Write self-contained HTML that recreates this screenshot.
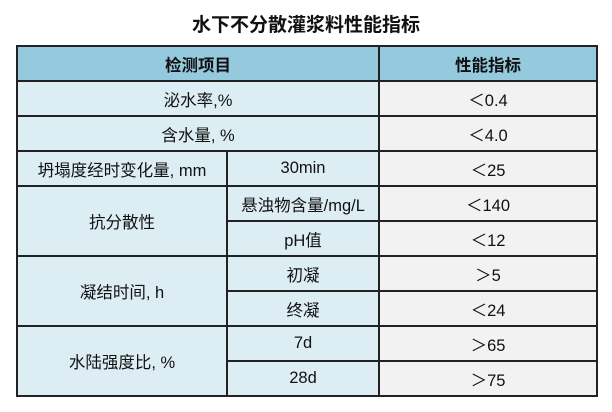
<!DOCTYPE html>
<html><head><meta charset="utf-8"><style>
body{margin:0;width:612px;height:412px;background:#fff;position:relative;overflow:hidden;font-family:"Liberation Sans","Noto Sans CJK SC",sans-serif;}
.t{position:absolute;top:10px;left:0;width:612px;text-align:center;font-size:19px;font-weight:bold;color:#111;}
.c{position:absolute;box-sizing:border-box;border:2px solid #222;display:flex;align-items:center;justify-content:center;font-size:16.5px;color:#111;}
.h{background:#94c9de;font-weight:bold;}
.l{background:#dcedf4;}
.r{background:#f2f2f2;}
</style></head><body>
<div class="t">水下不分散灌浆料性能指标</div>
<div class="c h" style="left:16px;top:45px;width:364px;height:37px">检测项目</div>
<div class="c h" style="left:378px;top:45px;width:220px;height:37px">性能指标</div>

<div class="c l" style="left:16px;top:80px;width:364px;height:37px">泌水率,%</div>
<div class="c r" style="left:378px;top:80px;width:220px;height:37px">＜0.4</div>
<div class="c l" style="left:16px;top:115px;width:364px;height:37px">含水量, %</div>
<div class="c r" style="left:378px;top:115px;width:220px;height:37px">＜4.0</div>

<div class="c l" style="left:16px;top:150px;width:212px;height:37px">坍塌度经时变化量, mm</div>
<div class="c l" style="left:226px;top:150px;width:154px;height:37px">30min</div>
<div class="c r" style="left:378px;top:150px;width:220px;height:37px">＜25</div>

<div class="c l" style="left:16px;top:185px;width:212px;height:72px">抗分散性</div>
<div class="c l" style="left:226px;top:185px;width:154px;height:37px">悬浊物含量/mg/L</div>
<div class="c r" style="left:378px;top:185px;width:220px;height:37px">＜140</div>
<div class="c l" style="left:226px;top:220px;width:154px;height:37px">pH值</div>
<div class="c r" style="left:378px;top:220px;width:220px;height:37px">＜12</div>

<div class="c l" style="left:16px;top:255px;width:212px;height:72px">凝结时间, h</div>
<div class="c l" style="left:226px;top:255px;width:154px;height:37px">初凝</div>
<div class="c r" style="left:378px;top:255px;width:220px;height:37px">＞5</div>
<div class="c l" style="left:226px;top:290px;width:154px;height:37px">终凝</div>
<div class="c r" style="left:378px;top:290px;width:220px;height:37px">＜24</div>

<div class="c l" style="left:16px;top:325px;width:212px;height:72px">水陆强度比, %</div>
<div class="c l" style="left:226px;top:325px;width:154px;height:37px">7d</div>
<div class="c r" style="left:378px;top:325px;width:220px;height:37px">＞65</div>
<div class="c l" style="left:226px;top:360px;width:154px;height:37px">28d</div>
<div class="c r" style="left:378px;top:360px;width:220px;height:37px">＞75</div>
</body></html>
